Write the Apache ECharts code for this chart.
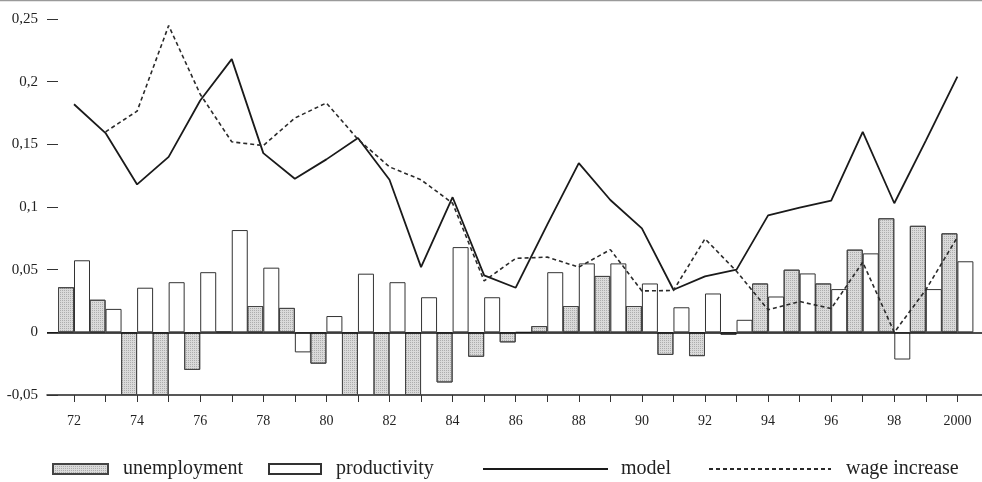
<!DOCTYPE html>
<html>
<head>
<meta charset="utf-8">
<script src="https://cdn.jsdelivr.net/npm/echarts@6/dist/echarts.min.js"></script>
<style>
  html, body { margin: 0; padding: 0; background: #fff; }
  #chart { width: 982px; height: 482px; }
</style>
</head>
<body>
<div id="chart"></div>
<script>
// Years shown on the horizontal axis (two-digit labels, 2000 written in full)
const years = [1972, 1973, 1974, 1975, 1976, 1977, 1978, 1979, 1980, 1981,
               1982, 1983, 1984, 1985, 1986, 1987, 1988, 1989, 1990, 1991,
               1992, 1993, 1994, 1995, 1996, 1997, 1998, 1999, 2000];
const labelYears = [1972, 1974, 1976, 1978, 1980, 1982, 1984, 1986, 1988, 1990,
                    1992, 1994, 1996, 1998, 2000];
const yTicks = [-0.05, 0, 0.05, 0.1, 0.15, 0.2, 0.25];

// Series values, one per year
const unemployment = [0.036, 0.026, -0.05, -0.05, -0.030, 0.001, 0.021, 0.0195, -0.025, -0.05,
                      -0.05, -0.05, -0.040, -0.0195, -0.008, 0.005, 0.021, 0.045, 0.021, -0.018,
                      -0.019, -0.002, 0.039, 0.050, 0.039, 0.066, 0.091, 0.085, 0.079];
const productivity = [0.0575, 0.0187, 0.0356, 0.040, 0.048, 0.0816, 0.0516, -0.016, 0.013, 0.0468,
                      0.040, 0.028, 0.068, 0.028, 0.0, 0.048, 0.055, 0.055, 0.039, 0.020,
                      0.031, 0.010, 0.0286, 0.047, 0.0345, 0.063, -0.0217, 0.0345, 0.0567];
const model = [0.182, 0.159, 0.118, 0.140, 0.185, 0.218, 0.143, 0.1225, 0.138, 0.155,
               0.1217, 0.052, 0.1078, 0.0455, 0.0356, 0.086, 0.135, 0.1056, 0.083, 0.034,
               0.0447, 0.050, 0.0933, 0.0995, 0.105, 0.160, 0.103, 0.153, 0.204];
const wageIncrease = [null, 0.160, 0.1765, 0.2447, 0.190, 0.152, 0.149, 0.171, 0.183, 0.154,
                      0.132, 0.1217, 0.103, 0.041, 0.059, 0.060, 0.052, 0.066, 0.033, 0.0334,
                      0.0746, 0.0487, 0.018, 0.0246, 0.019, 0.056, 0.0, 0.034, 0.0759];

const xOf = y => y - 1900;
const pairs = vals => years.map((y, i) => [xOf(y), vals[i]]);
const fmtYear = v => (v >= 100 ? String(1900 + v) : String(v));
const fmtNum = v => {
  const r = Math.round(v * 100) / 100;
  return String(r).replace('.', ',');
};

const serif = '"Liberation Serif", "DejaVu Serif", serif';
const ink = '#222';

const chart = echarts.init(document.getElementById('chart'), null, { renderer: 'canvas' });

function legendBox(name, left, width, pad, isLine) {
  const box = {
    data: [name],
    left: left,
    top: 459,
    padding: 0,
    itemWidth: width,
    itemHeight: 10,
    selectedMode: false,
    textStyle: { fontFamily: serif, fontSize: 20, color: ink, padding: [0, 0, 0, pad] }
  };
  if (isLine) {
    // plain stroke key, no marker dot
    box.itemStyle = { opacity: 0 };
  } else {
    box.icon = 'rect';
  }
  return box;
}

chart.setOption({
  animation: false,
  backgroundColor: '#fff',
  grid: { left: 47, right: 0, top: 19, bottom: 87, containLabel: false },
  xAxis: {
    type: 'value',
    min: 71.144,
    max: 100.78,
    splitLine: { show: false },
    axisLine: { show: true, onZero: false, lineStyle: { color: '#222', width: 1.5 } },
    axisTick: {
      show: true, length: 7, inside: false,
      customValues: years.map(xOf),
      lineStyle: { color: '#333', width: 1 }
    },
    axisLabel: {
      customValues: labelYears.map(xOf),
      formatter: fmtYear,
      margin: 19,
      fontFamily: serif, fontSize: 14, color: ink
    }
  },
  yAxis: {
    type: 'value',
    min: -0.05,
    max: 0.25,
    interval: 0.05,
    splitLine: { show: false },
    axisLine: { show: false },
    axisTick: { show: true, inside: true, length: 11, lineStyle: { color: '#333', width: 1 } },
    axisLabel: {
      formatter: fmtNum,
      margin: 9,
      fontFamily: serif, fontSize: 15, color: ink
    }
  },
  legend: [
    legendBox('unemployment', 52, 55, 10, false),
    legendBox('productivity', 268, 52, 10, false),
    legendBox('model', 482, 125, 8, true),
    legendBox('wage increase', 708, 122, 10, true)
  ],
  graphic: [{
    type: 'line',
    shape: { x1: 0, y1: 0.5, x2: 982, y2: 0.5 },
    style: { stroke: '#9a9a9a', lineWidth: 1.5 },
    silent: true
  }],
  series: [
    {
      name: 'unemployment',
      type: 'bar',
      data: pairs(unemployment),
      barWidth: 16,
      barGap: '0%',
      itemStyle: {
        color: '#dadada',
        borderColor: '#444',
        borderWidth: 1,
        decal: {
          symbol: 'rect',
          symbolSize: 1,
          color: 'rgba(90,90,90,0.35)',
          dashArrayX: [1, 1],
          dashArrayY: [1, 1]
        }
      },
      markLine: {
        silent: true,
        symbol: 'none',
        label: { show: false },
        lineStyle: { color: '#111', width: 1.5, type: 'solid' },
        data: [{ yAxis: 0 }]
      },
      z: 2
    },
    {
      name: 'productivity',
      type: 'bar',
      data: pairs(productivity),
      barWidth: 16,
      barGap: '0%',
      itemStyle: { color: '#fff', borderColor: '#333', borderWidth: 1 },
      z: 2
    },
    {
      name: 'model',
      type: 'line',
      data: pairs(model),
      symbol: 'none',
      lineStyle: { color: '#1a1a1a', width: 1.8 },
      itemStyle: { color: '#1a1a1a' },
      z: 4
    },
    {
      name: 'wage increase',
      type: 'line',
      data: pairs(wageIncrease),
      symbol: 'none',
      connectNulls: false,
      lineStyle: { color: '#2a2a2a', width: 1.6, type: [4, 3] },
      itemStyle: { color: '#2a2a2a' },
      z: 4
    }
  ]
});
</script>
</body>
</html>
